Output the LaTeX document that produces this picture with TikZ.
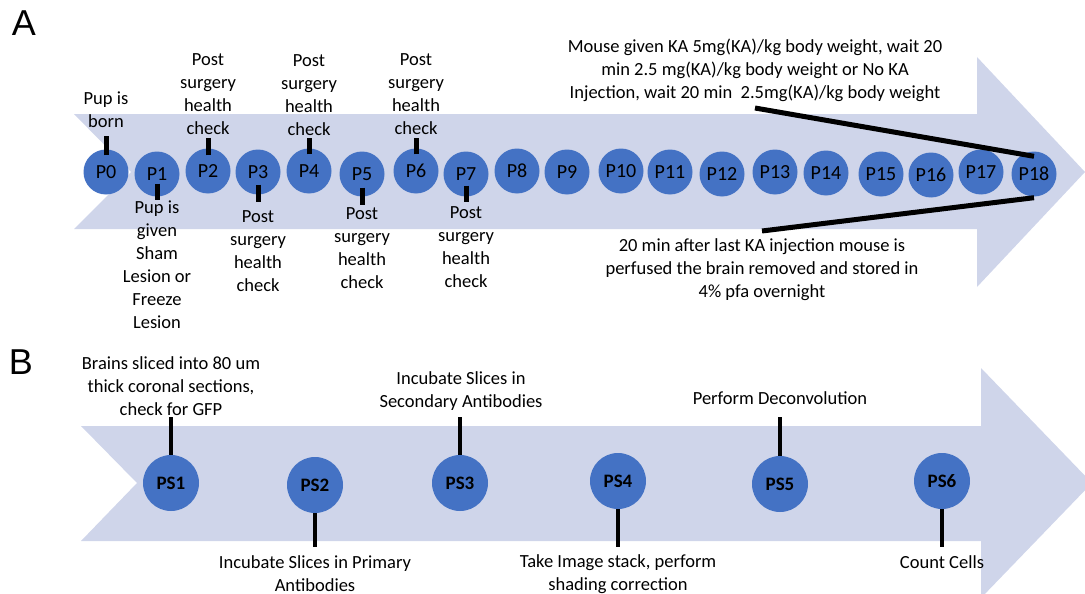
\documentclass[tikz,border=0pt]{standalone}
\usepackage{fontspec}
\setmainfont{Carlito}
\newfontfamily\labfont{Liberation Sans}
\definecolor{band}{HTML}{CFD5EA}
\definecolor{cblue}{HTML}{4472C4}
\begin{document}
\begin{tikzpicture}[x=1pt,y=-1pt,
  txt/.style={font=\fontsize{18.5}{23}\selectfont, align=center, inner sep=0pt},
  pc/.style={circle, fill=cblue, minimum size=45pt, inner sep=0pt, font=\fontsize{20}{22}\selectfont},
  psc/.style={circle, fill=cblue, minimum size=56pt, inner sep=0pt, font=\fontsize{19}{22}\selectfont\bfseries},
  tick/.style={line width=5pt, black},
  tickb/.style={line width=4.5pt, black},
  diag/.style={line width=5pt, black},
  panel/.style={font=\fontsize{36}{40}\selectfont\labfont, inner sep=0pt}]
\path[use as bounding box] (0,0) rectangle (1085,594);
\clip (0,0) rectangle (1085,594);

% arrows
\fill[band] (74,114) -- (977,114) -- (977,57) -- (1085,172) -- (977,287) -- (977,229) -- (74,229) -- (131,172) -- cycle;
\fill[band] (81,426) -- (981,426) -- (981,368) -- (1092,483) -- (981,598) -- (981,541) -- (81,541) -- (137,483) -- cycle;

% panel letters
\node[panel] (pA) at (24,23) {A};
\node[panel] (pB) at (21,362) {B};

% timeline A circles
\foreach \n/\x/\y in {0/106/172, 1/157/174, 2/208/171, 3/258/172, 4/309/171, 5/362/174, 6/416/171, 7/466/174, 8/517/171, 9/567/172, 10/621/171, 11/670/172, 12/722/174, 13/775/172, 14/826/173, 15/881/174, 16/931/175, 17/981/172, 18/1034/174}
  \node[pc] (P\n) at (\x,\y) {P\n};

% labels A
\node[txt] (L0) at (106,109.5) {Pup is\\born};
\node[txt] (L1) at (157,264.5) {Pup is\\given\\Sham\\Lesion or\\Freeze\\Lesion};
\node[txt] (L2) at (208,94.5) {Post\\surgery\\health\\check};
\node[txt] (L3) at (258,251) {Post\\surgery\\health\\check};
\node[txt] (L4) at (309,95.5) {Post\\surgery\\health\\check};
\node[txt] (L5) at (362,248) {Post\\surgery\\health\\check};
\node[txt] (L6) at (416,94) {Post\\surgery\\health\\check};
\node[txt] (L7) at (466,247) {Post\\surgery\\health\\check};
\node[txt] (KA1) at (755,70) {Mouse given KA 5mg(KA)/kg body weight, wait 20\\min 2.5 mg(KA)/kg body weight or No KA\\Injection, wait 20 min~ 2.5mg(KA)/kg body weight};
\node[txt] (KA2) at (762,270) {20 min after last KA injection mouse is\\perfused the brain removed and stored in\\4\% pfa overnight};

% ticks A
\coordinate (t0) at (106,136);
\coordinate (t1) at (157,200);
\coordinate (t2) at (208,138);
\coordinate (t3) at (258,202);
\coordinate (t4) at (309,138);
\coordinate (t5) at (362,205);
\coordinate (t6) at (416,138);
\coordinate (t7) at (466,202);
\draw[tick] ([yshift=-6pt]P0.north) -- (t0);
\draw[tick] ([yshift=13pt]P1.south) -- (t1);
\draw[tick] ([yshift=-7pt]P2.north) -- (t2);
\draw[tick] ([yshift=10pt]P3.south) -- (t3);
\draw[tick] ([yshift=-6pt]P4.north) -- (t4);
\draw[tick] ([yshift=9pt]P5.south) -- (t5);
\draw[tick] ([yshift=-6pt]P6.north) -- (t6);
\draw[tick] ([yshift=11pt]P7.south) -- (t7);

\coordinate (ka1) at (755,108);
\coordinate (ka2) at (762,231);
\draw[diag] (ka1) -- ([yshift=-5pt]P18.north);
\draw[diag] ([yshift=-1pt]P18.south) -- (ka2);

% timeline B
\node[psc] (S1) at (171,483) {PS1};
\node[psc] (S2) at (315,485) {PS2};
\node[psc] (S3) at (460,483) {PS3};
\node[psc] (S4) at (618,481) {PS4};
\node[psc] (S5) at (780,484) {PS5};
\node[psc] (S6) at (942,481) {PS6};

\node[txt] (B1) at (171,386) {Brains sliced into 80 um\\thick coronal sections,\\check for GFP};
\node[txt] (B3) at (461,391.5) {Incubate Slices in\\Secondary Antibodies};
\node[txt] (B5) at (780,398) {Perform Deconvolution};
\node[txt] (B2) at (315,574) {Incubate Slices in Primary\\Antibodies};
\node[txt] (B4) at (618,574) {Take Image stack, perform\\shading correction};
\node[txt] (B6) at (942,562) {Count Cells};

\coordinate (u1) at (171,417);
\coordinate (u2) at (315,547);
\coordinate (u3) at (460,417);
\coordinate (u4) at (618,547);
\coordinate (u5) at (780,417);
\coordinate (u6) at (942,547);
\draw[tickb] (S1.north) -- (u1);
\draw[tickb] (S2.south) -- (u2);
\draw[tickb] (S3.north) -- (u3);
\draw[tickb] (S4.south) -- (u4);
\draw[tickb] (S5.north) -- (u5);
\draw[tickb] (S6.south) -- (u6);
\end{tikzpicture}
\end{document}
